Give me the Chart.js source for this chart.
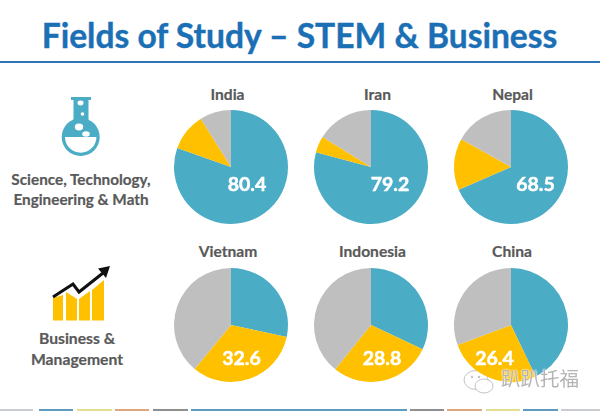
<!DOCTYPE html>
<html>
<head>
<meta charset="utf-8">
<script src="https://cdn.jsdelivr.net/npm/chart.js@4"></script>
<style>
  html, body { margin: 0; padding: 0; background: #fff; }
  #page { position: relative; width: 600px; height: 411px; overflow: hidden; font-family: Lato, sans-serif; font-weight: 700; color: #595959; }
  #title { position: absolute; left: 0; width: 599px; top: 13px; text-align: center; font-size: 33.6px; line-height: 44px; color: #1b6fb5; white-space: nowrap; -webkit-text-stroke: 0.4px #1b6fb5; }
  #rule { position: absolute; left: 0; top: 61px; width: 600px; height: 2px; background: #2e75b6; }
  .name { position: absolute; width: 120px; text-align: center; font-size: 15.6px; line-height: 18px; -webkit-text-stroke: 0.2px #595959; }
  .side { position: absolute; text-align: center; white-space: nowrap; -webkit-text-stroke: 0.2px #595959; }
  canvas { position: absolute; }
  svg { position: absolute; left: 0; top: 0; }
  .seg { position: absolute; top: 409px; height: 2px; }
  #mark { position: absolute; left: 501px; top: 364px; font-family: "Noto Sans CJK SC"; font-weight: 400; font-size: 19.5px; line-height: 28px; color: #b4b4b4; white-space: nowrap; text-shadow: 0 0 2px #fff, 0 0 2px #fff; }
</style>
</head>
<body>
<div id="page">
  <div id="title">Fields of Study – STEM &amp; Business</div>
  <div id="rule"></div>

  <svg width="600" height="411">
    <!-- flask -->
    <rect x="71" y="97" width="20" height="3" fill="#4bacc6"/>
    <rect x="73.5" y="99" width="15" height="26" fill="#4bacc6"/>
    <circle cx="80.7" cy="137" r="19" fill="#4bacc6"/>
    <path d="M65 137 H96.4 A15.7 15.7 0 0 1 65 137 Z" fill="#fff"/>
    <ellipse cx="80.5" cy="103" rx="3" ry="2.4" fill="#fff"/>
    <circle cx="82.5" cy="114" r="1.8" fill="#fff"/>
    <ellipse cx="79" cy="127" rx="4.2" ry="3.4" fill="#fff"/>
    <ellipse cx="86" cy="134" rx="3.8" ry="2.8" fill="#fff"/>
    <!-- bars and arrow -->
    <path d="M53 298 L63 295 V320.5 H53 Z" fill="#ffc000"/>
    <path d="M66 292 L77 299 V320.5 H66 Z" fill="#ffc000"/>
    <path d="M79 299 L90 291 V320.5 H79 Z" fill="#ffc000"/>
    <path d="M92 290 L104 280 V320.5 H92 Z" fill="#ffc000"/>
    <path d="M53 297 L73 284 L79 292 L103 273" fill="none" stroke="#111" stroke-width="3"/>
    <path d="M110 266 L98 268.5 L106 278 Z" fill="#111"/>
    <!-- watermark bubbles -->
    <ellipse cx="476" cy="380" rx="12" ry="9.5" fill="#fff" fill-opacity="0.85" stroke="#c4c4c4" stroke-width="1"/>
    <ellipse cx="484" cy="386" rx="9" ry="7" fill="#fff" fill-opacity="0.85" stroke="#c4c4c4" stroke-width="1"/>
    <circle cx="472" cy="377" r="1.2" fill="#c4c4c4"/>
    <circle cx="479" cy="377" r="1.2" fill="#c4c4c4"/>
  </svg>

  <div class="side" style="left:0;width:162px;top:170px;font-size:15.3px;line-height:19.5px;">Science, Technology,<br>Engineering &amp; Math</div>
  <div class="side" style="left:0;width:154px;top:328px;font-size:15.7px;line-height:21px;">Business &amp;<br>Management</div>
  <div id="mark">趴趴托福</div>
</div>

<script>
// share of students per field
const countries = ['India', 'Iran', 'Nepal', 'Vietnam', 'Indonesia', 'China'];
const stemValues = [80.4, 79.2, 68.5, 28.4, 32, 42.9];
const businessValues = [10.7, 4.6, 14.6, 32.6, 28.8, 26.4];
const otherValues = [8.9, 16.2, 16.9, 39, 39.2, 30.7];
const fields = ['STEM', 'Business', 'Other'];
const fieldColors = ['#4bacc6', '#ffc000', '#bfbfbf'];

// which slice carries the number
const labelledSlice = [0, 0, 0, 1, 1, 1];

// layout: pie centres, label offset from the centre, name position
const centersX = [231, 370.5, 510.5, 231, 370.5, 510.5];
const centersY = [167, 167, 167, 325, 325, 325];
const labelDX = [16, 19, 24.5, 10.5, 11, -16.5];
const labelDY = [18, 18, 18, 33.7, 33.7, 33.7];
const nameX = [227.5, 377.5, 512.5, 228, 372.5, 512];
const nameY = [85, 85, 85, 242, 242, 242];
const stripColors = ['#c9ccd0', '#5d9cc0', '#e3dd8e', '#e0a67c', '#8f8f8f', '#5d9cc0', '#8f8f8f', '#e0a67c', '#e3dd8e', '#5d9cc0', '#c9ccd0'];
const stripStarts = [0, 39, 77, 115, 153, 191, 410, 447, 486, 523, 561];
const stripEnds = [33, 73, 112, 149, 188, 407, 444, 482, 520, 558, 600];

var page = document.getElementById('page');
var size = 124;

stripColors.forEach(function(color, i) {
    var seg = document.createElement('div');
    seg.className = 'seg';
    seg.style.left = stripStarts[i] + 'px';
    seg.style.width = (stripEnds[i] - stripStarts[i]) + 'px';
    seg.style.background = color;
    page.appendChild(seg);
});

var valueLabel = {
    id: 'valueLabel',
    afterDatasetsDraw: function(chart, args, opts) {
        var ctx = chart.ctx;
        var arc = chart.getDatasetMeta(0).data[0];
        ctx.save();
        ctx.font = '700 19.5px Lato';
        ctx.fillStyle = '#fff';
        ctx.strokeStyle = '#fff';
        ctx.lineWidth = 0.5;
        ctx.textAlign = 'center';
        ctx.textBaseline = 'middle';
        ctx.fillText(opts.text, arc.x + opts.dx, arc.y + opts.dy);
        ctx.strokeText(opts.text, arc.x + opts.dx, arc.y + opts.dy);
        ctx.restore();
    }
};

countries.forEach(function(name, i) {
    var title = document.createElement('div');
    title.className = 'name';
    title.textContent = name;
    title.style.left = (nameX[i] - 60) + 'px';
    title.style.top = nameY[i] + 'px';
    page.appendChild(title);

    var canvas = document.createElement('canvas');
    canvas.width = size;
    canvas.height = size;
    canvas.style.left = (centersX[i] - size / 2) + 'px';
    canvas.style.top = (centersY[i] - size / 2) + 'px';
    canvas.style.width = size + 'px';
    canvas.style.height = size + 'px';
    page.insertBefore(canvas, document.getElementById('mark'));

    var values = [stemValues[i], businessValues[i], otherValues[i]];
    new Chart(canvas.getContext('2d'), {
        type: 'pie',
        data: {
            labels: fields,
            datasets: [{
                data: values,
                backgroundColor: fieldColors,
                borderWidth: 0
            }]
        },
        options: {
            responsive: false,
            animation: false,
            radius: 57,
            layout: { padding: 0 },
            plugins: {
                legend: { display: false },
                tooltip: { enabled: false },
                valueLabel: {
                    text: values[labelledSlice[i]].toFixed(1),
                    dx: labelDX[i],
                    dy: labelDY[i]
                }
            }
        },
        plugins: [valueLabel]
    });
});
</script>
</body>
</html>
